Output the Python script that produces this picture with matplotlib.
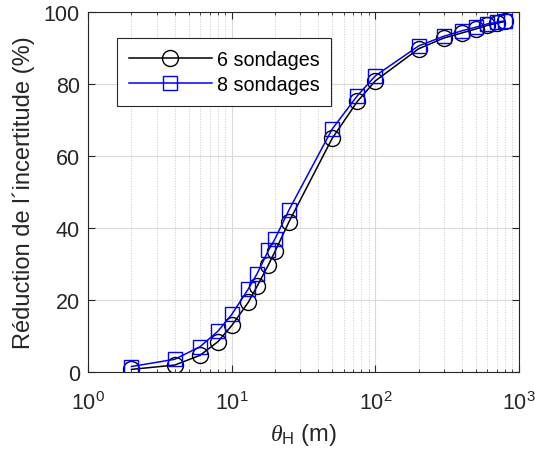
import numpy as np
import matplotlib
matplotlib.use('Agg')
import matplotlib.pyplot as plt
from matplotlib.ticker import LogLocator, NullFormatter

plt.rcParams['font.family'] = ['Liberation Sans', 'DejaVu Sans']
plt.rcParams['mathtext.fontset'] = 'custom'
plt.rcParams['mathtext.rm'] = 'Liberation Sans'
plt.rcParams['mathtext.it'] = 'Liberation Serif:italic'

theta = [2, 4, 6, 8, 10, 13, 15, 18, 20, 25, 50, 75, 100, 200, 300, 400, 500, 600, 700, 800]
six = [0.7, 1.9, 4.6, 8.4, 12.9, 19.3, 23.8, 29.8, 33.5, 41.7, 64.9, 75.2, 80.9, 89.8, 92.8, 94.2, 95.3, 96.3, 96.9, 97.4]
eight = [1.5, 3.5, 7.0, 11.3, 16.0, 23.0, 27.3, 33.8, 37.0, 45.0, 67.5, 76.8, 82.3, 90.6, 93.3, 94.8, 95.8, 96.7, 97.2, 97.6]

grey = '#262626'

fig = plt.figure(figsize=(5.35, 4.52), dpi=100)
ax = fig.add_axes([0.165, 0.175, 0.805, 0.796])

ax.plot(theta, six, color='k', lw=1.1, marker='o', ms=11.5, mfc='none', mec='k', mew=1.0, label='6 sondages')
ax.plot(theta, eight, color='b', lw=1.1, marker='s', ms=9.5, mfc='none', mec='b', mew=1.0, label='8 sondages')

ax.set_xscale('log')
ax.set_xlim(1, 1000)
ax.set_ylim(0, 100)
ax.set_yticks([0, 20, 40, 60, 80, 100])
ax.xaxis.set_major_locator(LogLocator(base=10, numticks=10))
ax.xaxis.set_minor_locator(LogLocator(base=10, subs=np.arange(2, 10), numticks=10))
ax.xaxis.set_minor_formatter(NullFormatter())

ax.grid(True, which='major', color='#d9d9d9', lw=0.8, ls='-')
ax.grid(True, which='minor', axis='x', color='#c8c8c8', lw=0.7, ls=':')
ax.set_axisbelow(True)

ax.tick_params(which='both', direction='in', top=True, right=True, colors=grey, labelsize=15.5)
ax.tick_params(which='major', length=5)
ax.tick_params(which='minor', length=2.5)
ax.tick_params(axis='y', pad=6)
ax.tick_params(axis='x', pad=14)
for s in ax.spines.values():
    s.set_color(grey)
    s.set_linewidth(0.8)

ax.set_ylabel('Réduction de l´incertitude (%)', fontsize=17, color=grey, labelpad=6)
ax.set_xlabel(r'$\theta_{\rm H}$ (m)', fontsize=17, color=grey, labelpad=5)

leg = ax.legend(loc='upper left', bbox_to_anchor=(0.067, 0.927), fontsize=14.2, handlelength=4.2,
                fancybox=False, framealpha=1, edgecolor=grey, borderpad=0.6, labelspacing=0.3,
                handletextpad=0.25, borderaxespad=0)
leg.get_frame().set_linewidth(0.8)

fig.savefig('out.png', dpi=100)
